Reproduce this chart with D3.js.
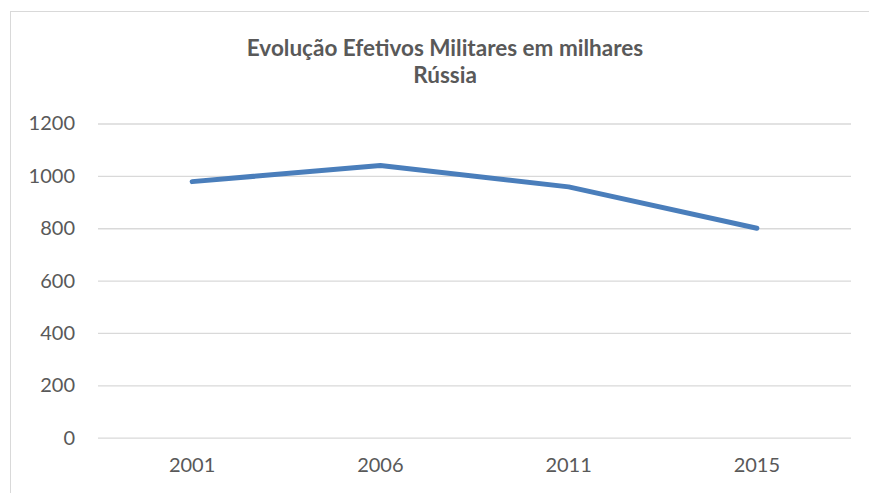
<!DOCTYPE html>
<html>
<head>
<meta charset="utf-8">
<script src="https://cdn.jsdelivr.net/npm/d3@7"></script>
<style>
  body { margin: 0; background: #fff; }
  svg { display: block; }
</style>
</head>
<body>
<div id="root"></div>
<script>
// chart data
var years = ["2001", "2006", "2011", "2015"];
var efetivos = [978, 1040, 958, 800];
var yTicks = [0, 200, 400, 600, 800, 1000, 1200];
var titleLines = ["Evolução Efetivos Militares em milhares", "Rússia"];

var W = 869, H = 493;
var margin = { left: 98, right: 18, top: 123.5, bottom: 55.3 };
var font = "Lato, 'Open Sans', sans-serif";

var svg = d3.select("#root").append("svg")
    .attr("width", W)
    .attr("height", H);

// chart area border (runs off the right/bottom edge)
svg.append("rect")
    .attr("x", 10.5).attr("y", 11.5)
    .attr("width", W + 20).attr("height", H + 20)
    .attr("fill", "#fff")
    .attr("stroke", "#d9d9d9")
    .attr("stroke-width", 1);

var x = d3.scaleBand()
    .domain(years)
    .range([margin.left, W - margin.right]);

var y = d3.scaleLinear()
    .domain([0, 1200])
    .range([H - margin.bottom, margin.top]);

// gridlines + y labels
var yAxis = svg.append("g")
    .attr("transform", "translate(" + margin.left + ",0)")
    .call(d3.axisLeft(y).tickValues(yTicks).tickFormat(d3.format("d"))
        .tickSize(-(W - margin.left - margin.right)).tickPadding(23));
yAxis.select(".domain").remove();
yAxis.selectAll(".tick line").attr("stroke", "#d9d9d9").attr("stroke-width", 1.3);
yAxis.selectAll(".tick text")
    .attr("fill", "#595959")
    .style("font-family", font)
    .style("font-size", "20px");

// x labels
var xAxis = svg.append("g")
    .attr("transform", "translate(0," + (H - margin.bottom) + ")")
    .call(d3.axisBottom(x).tickSize(0).tickPadding(20));
xAxis.select(".domain").remove();
xAxis.selectAll(".tick text")
    .attr("fill", "#595959")
    .style("font-family", font)
    .style("font-size", "20px");

// the line
var line = d3.line()
    .x(function(d, i) { return x(years[i]) + x.bandwidth() / 2; })
    .y(function(d) { return y(d); });

svg.append("path")
    .datum(efetivos)
    .attr("fill", "none")
    .attr("stroke", "#4a7ebb")
    .attr("stroke-width", 5)
    .attr("stroke-linecap", "round")
    .attr("stroke-linejoin", "round")
    .attr("d", line);

// title
svg.append("g").selectAll("text")
    .data(titleLines)
    .enter().append("text")
    .attr("x", 445)
    .attr("y", function(d, i) { return 56 + i * 27; })
    .attr("text-anchor", "middle")
    .attr("fill", "#595959")
    .style("font-family", font)
    .style("font-weight", "bold")
    .style("font-size", "22.5px")
    .text(function(d) { return d; });
</script>
</body>
</html>
